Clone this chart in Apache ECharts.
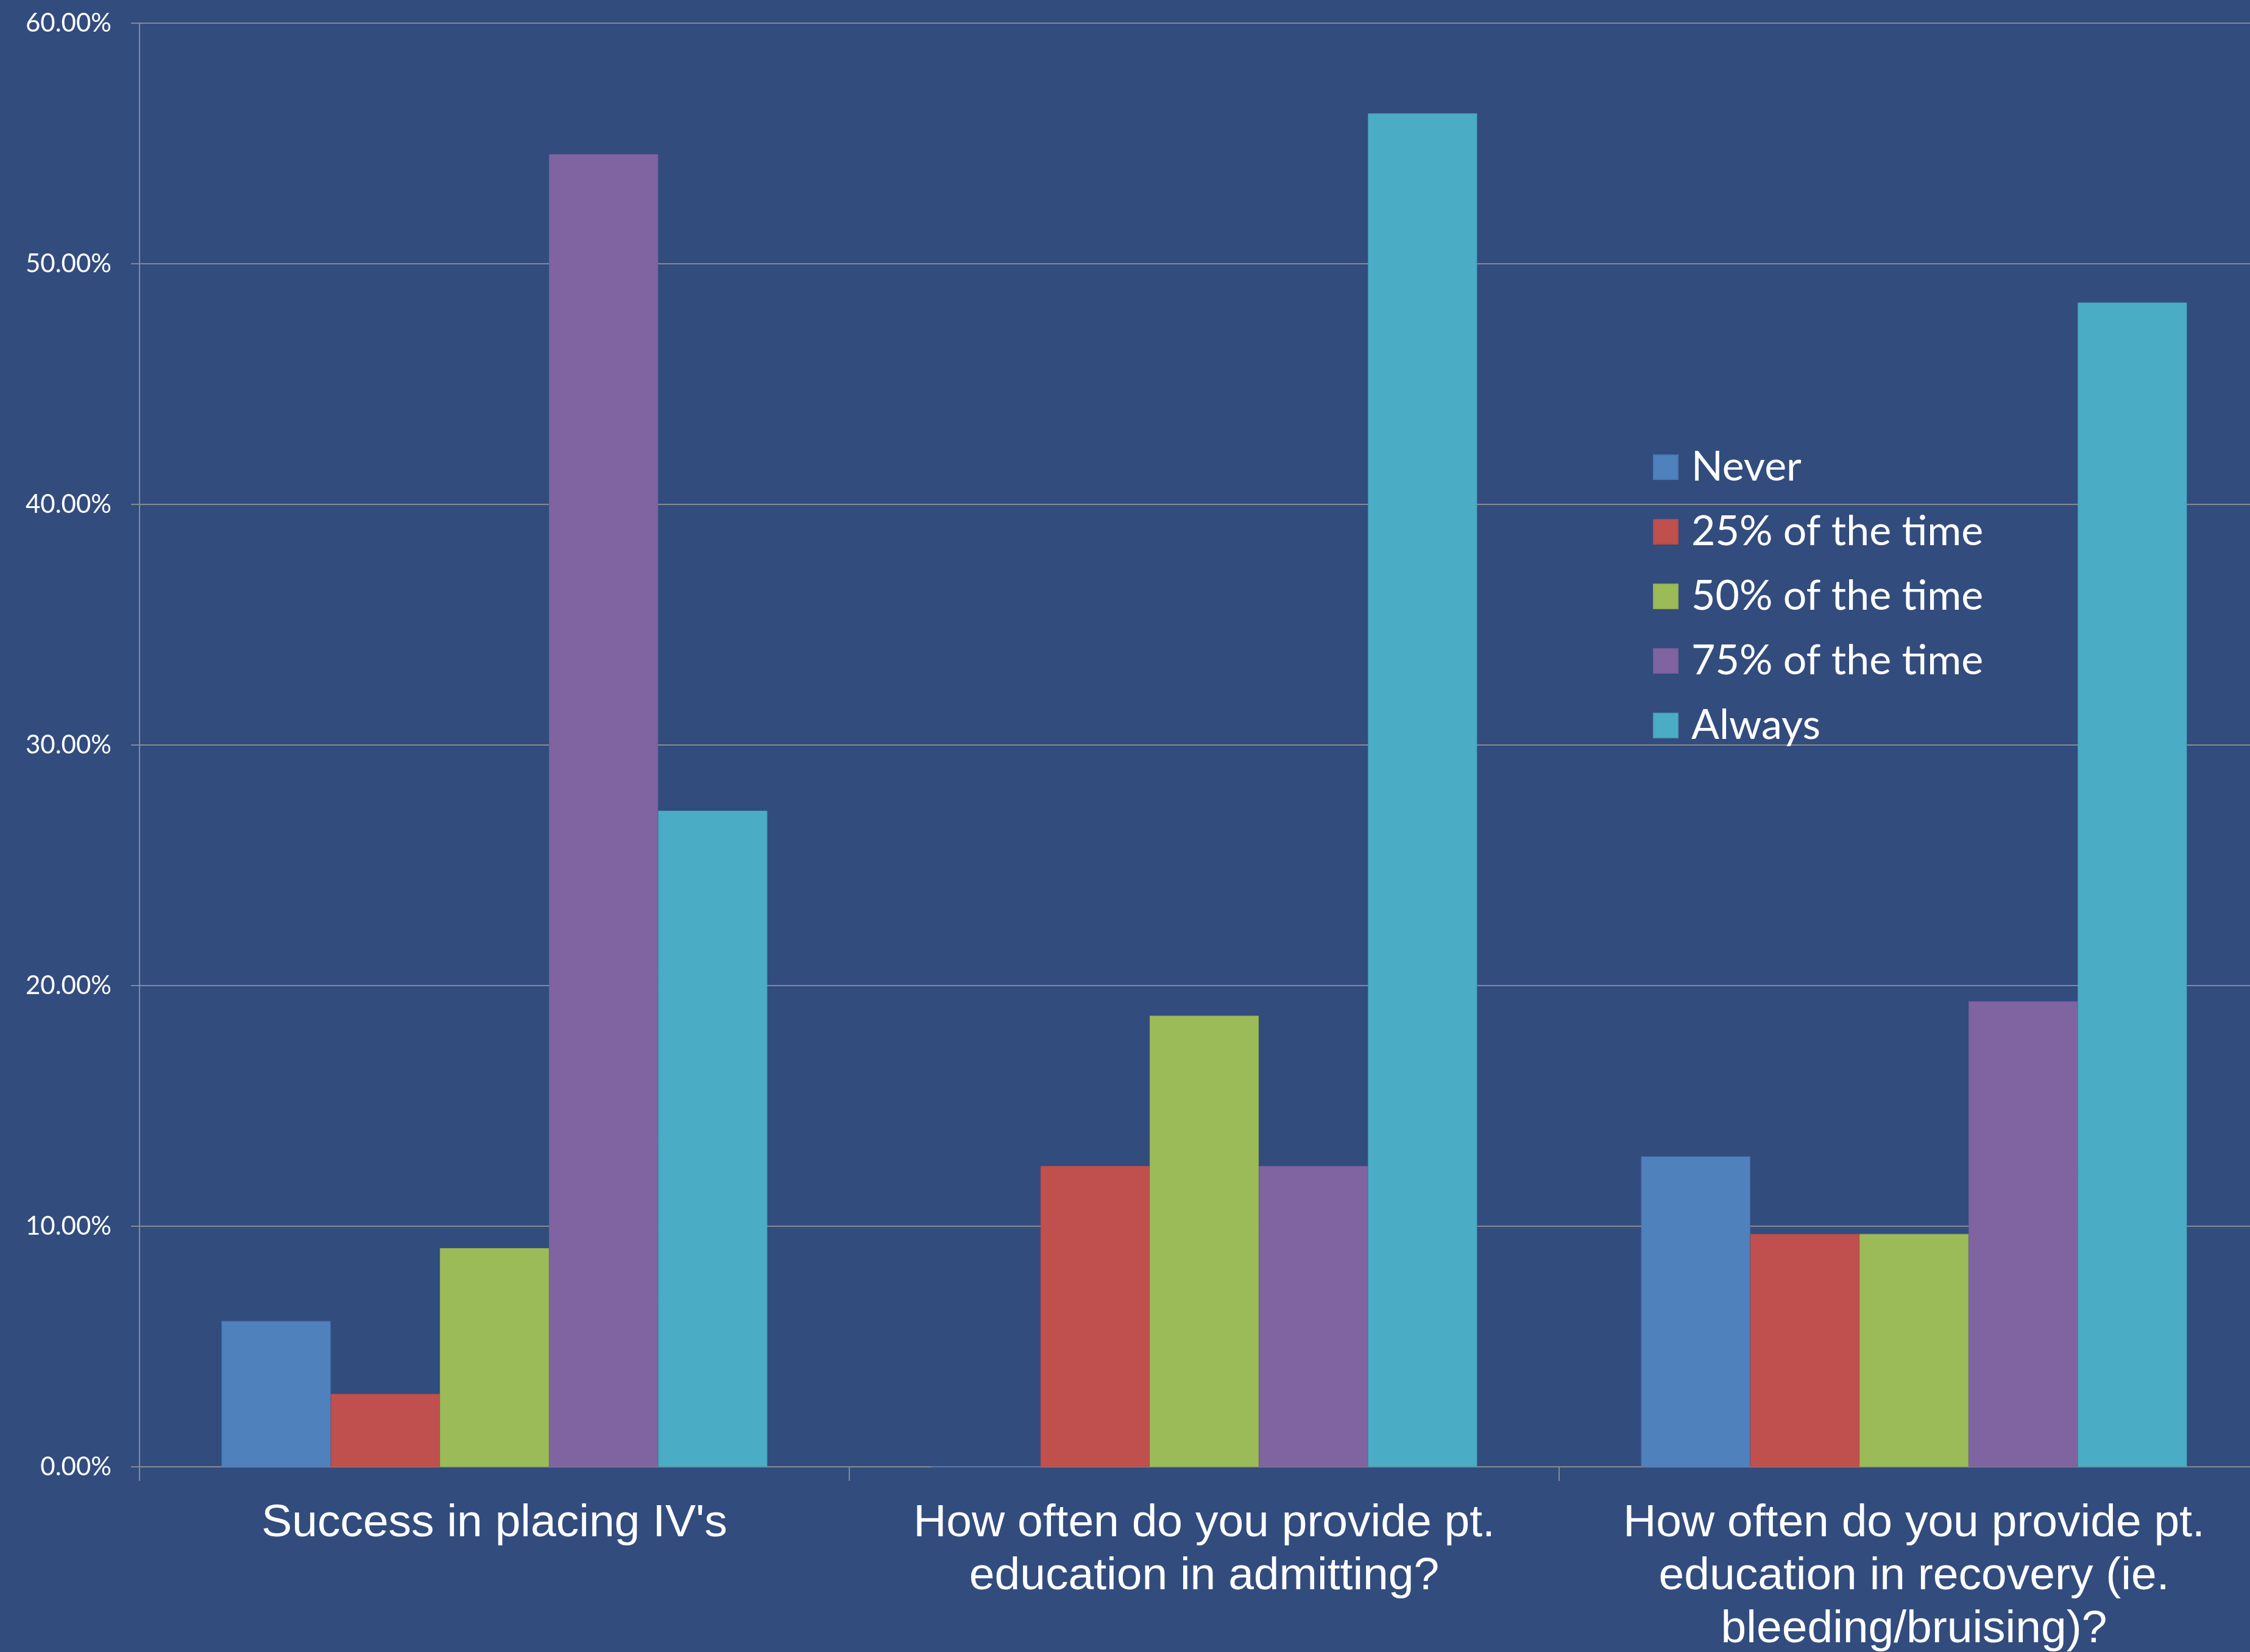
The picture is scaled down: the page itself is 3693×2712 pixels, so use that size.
<!DOCTYPE html>
<html>
<head>
<meta charset="utf-8">
<script src="https://cdn.jsdelivr.net/npm/echarts@6/dist/echarts.min.js"></script>
<style>
html,body{margin:0;padding:0;background:#324c7e;}
#chart{width:3693px;height:2712px;}
</style>
</head>
<body>
<div id="chart"></div>
<script>
const categories = [
  "Success in placing IV's",
  "How often do you provide pt.\neducation in admitting?",
  "How often do you provide pt.\neducation in recovery (ie.\nbleeding/bruising)?"
];
const seriesNames = ["Never", "25% of the time", "50% of the time", "75% of the time", "Always"];
const never = [6.06, 0, 12.90];
const pct25 = [3.03, 12.50, 9.68];
const pct50 = [9.09, 18.75, 9.68];
const pct75 = [54.55, 12.50, 19.35];
const always = [27.27, 56.25, 48.39];
const yTicks = { min: 0, max: 60, interval: 10 };

const colors = ["#4f81bd", "#c0504d", "#9bbb59", "#8064a2", "#4bacc6"];
const borders = ["#4a78b0", "#b44b48", "#91b053", "#785e98", "#459fb8"];
const values = [never, pct25, pct50, pct75, always];

const chart = echarts.init(document.getElementById('chart'));
chart.setOption({
  backgroundColor: '#324c7e',
  animation: false,
  legend: {
    orient: 'vertical',
    left: 2713,
    top: 733,
    itemWidth: 40,
    itemHeight: 40,
    itemGap: 38,
    icon: 'rect',
    padding: 0,
    data: seriesNames,
    textStyle: { color: '#ffffff', fontSize: 68, fontFamily: 'Lato', lineHeight: 40, padding: [0, 0, 0, 17] }
  },
  grid: { left: 229, top: 38, width: 3495, bottom: 304, containLabel: false, outerBoundsMode: 'none' },
  xAxis: {
    type: 'category',
    data: categories,
    axisLine: { show: true, lineStyle: { color: '#878a90', width: 2 } },
    axisTick: { show: true, length: 23, interval: 0, alignWithLabel: false, lineStyle: { color: '#878a90', width: 2 } },
    axisLabel: { color: '#ffffff', fontSize: 75, fontFamily: 'Liberation Sans', lineHeight: 87, margin: 50, interval: 0 },
    splitLine: { show: false }
  },
  yAxis: {
    type: 'value',
    min: yTicks.min, max: yTicks.max, interval: yTicks.interval,
    axisLine: { show: true, lineStyle: { color: '#878a90', width: 2 } },
    axisTick: { show: true, length: 14, lineStyle: { color: '#878a90', width: 2 } },
    axisLabel: { color: '#ffffff', fontSize: 42, fontFamily: 'Lato', margin: 46, formatter: v => v.toFixed(2) + '%' },
    splitLine: { show: true, lineStyle: { color: '#878a90', width: 2 } }
  },
  series: seriesNames.map((name, i) => ({
    name: name,
    type: 'bar',
    data: values[i],
    barGap: '0%',
    barCategoryGap: '23.1%',
    itemStyle: { color: colors[i], borderColor: borders[i], borderWidth: 1 }
  }))
});
</script>
</body>
</html>
